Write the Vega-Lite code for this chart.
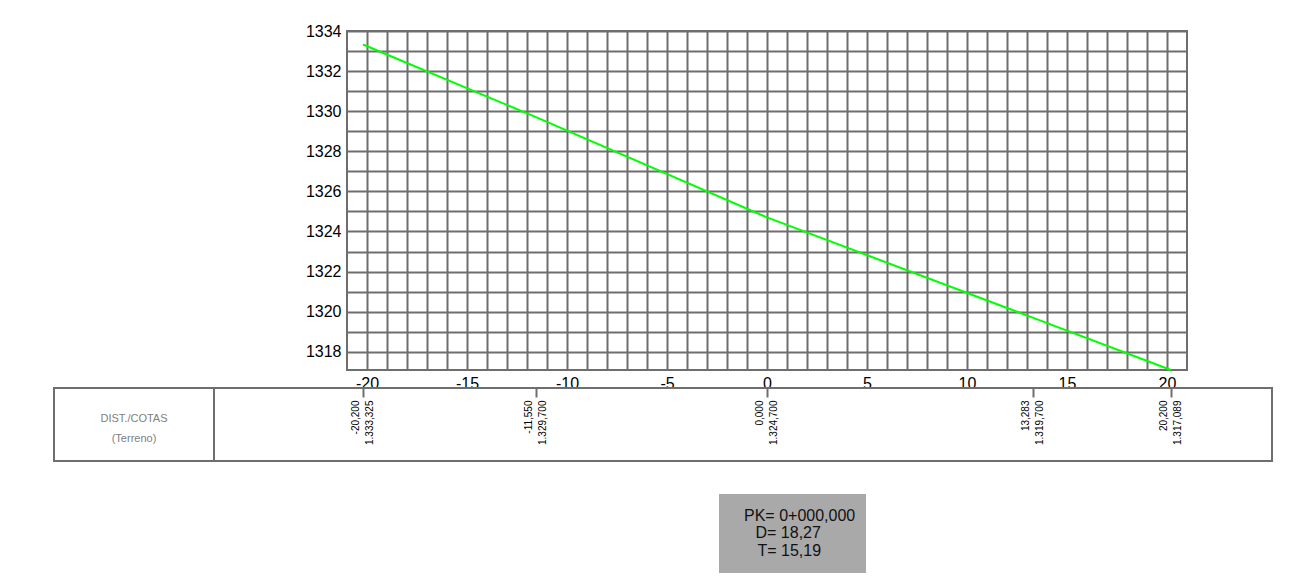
{
  "$schema": "https://vega.github.io/schema/vega-lite/v6.json",
  "padding": {"left": 53, "top": 22, "right": 5, "bottom": 5},
  "background": "white",
  "config": {
    "font": "Liberation Sans",
    "view": {"stroke": null},
    "locale": {"number": {"decimal": ",", "thousands": ".", "grouping": [3], "currency": ["", ""], "minus": "-"}}
  },
  "datasets": {
    "terrain": [
      {"dist": -20.2, "elev": 1333.325},
      {"dist": -11.55, "elev": 1329.7},
      {"dist": 0, "elev": 1324.7},
      {"dist": 13.283, "elev": 1319.7},
      {"dist": 20.2, "elev": 1317.089}
    ]
  },
  "bounds": "flush",
  "spacing": 18,
  "vconcat": [
    {
      "bounds": "flush",
      "spacing": 0,
      "hconcat": [
        {"width": 293, "height": 10, "data": {"values": []}, "mark": {"type": "point"}, "encoding": {}},
        {
          "width": 840,
          "height": 339,
          "view": {"stroke": "#6e6e6e", "strokeWidth": 2},
          "data": {"name": "terrain"},
          "mark": {"type": "line", "color": "#00ff00", "strokeWidth": 2},
          "encoding": {
            "x": {
              "field": "dist", "type": "quantitative",
              "scale": {"domain": [-21, 21], "nice": false, "zero": false},
              "axis": {
                "title": null,
                "values": [-20,-19,-18,-17,-16,-15,-14,-13,-12,-11,-10,-9,-8,-7,-6,-5,-4,-3,-2,-1,0,1,2,3,4,5,6,7,8,9,10,11,12,13,14,15,16,17,18,19,20],
                "format": "d",
                "labelExpr": "datum.value % 5 === 0 ? datum.label : ''",
                "grid": true, "gridColor": "#6e6e6e", "gridWidth": 2, "gridOpacity": 1,
                "ticks": false, "domain": false,
                "labelFontSize": 16, "labelColor": "#000000", "labelPadding": 5,
                "labelOverlap": false, "labelFlush": false
              }
            },
            "y": {
              "field": "elev", "type": "quantitative",
              "scale": {"domain": [1317.089, 1334], "nice": false, "zero": false},
              "axis": {
                "title": null,
                "values": [1318,1319,1320,1321,1322,1323,1324,1325,1326,1327,1328,1329,1330,1331,1332,1333,1334],
                "format": "d",
                "labelExpr": "datum.value % 2 === 0 ? datum.label : ''",
                "grid": true, "gridColor": "#6e6e6e", "gridWidth": 2, "gridOpacity": 1,
                "ticks": false, "domain": false,
                "labelFontSize": 16, "labelColor": "#000000", "labelPadding": 6,
                "labelOverlap": false, "labelFlush": false
              }
            }
          }
        }
      ]
    },
    {"width": 1, "height": 321, "data": {"values": []}, "mark": {"type": "point"}, "encoding": {}},
    {
      "bounds": "flush",
      "spacing": 0,
      "hconcat": [
        {
          "width": 160,
          "height": 73,
          "view": {"stroke": "#6e6e6e", "strokeWidth": 2},
          "data": {"values": [{"row": "header"}]},
          "mark": {"type": "text", "text": ["DIST./COTAS", "(Terreno)"], "fontSize": 11, "lineHeight": 20, "color": "#808080", "baseline": "middle", "dy": -5.5},
          "encoding": {}
        },
        {
          "width": 1058,
          "height": 73,
          "view": {"stroke": "#6e6e6e", "strokeWidth": 2},
          "data": {"name": "terrain"},
          "encoding": {
            "x": {
              "field": "dist", "type": "quantitative",
              "scale": {"domain": [-27.65, 25.25], "nice": false, "zero": false},
              "axis": {
                "orient": "top", "title": null,
                "values": [-20.2, -11.55, 0, 13.283, 20.2],
                "labels": false, "domain": false, "grid": false,
                "ticks": true, "tickSize": -9, "tickWidth": 2, "tickColor": "#6e6e6e"
              }
            }
          },
          "layer": [
            {
              "mark": {"type": "text", "angle": 270, "align": "right", "baseline": "middle", "fontSize": 10, "dx": 24, "dy": -7, "color": "#000000"},
              "encoding": {"text": {"field": "dist", "type": "quantitative", "format": ".3f"}}
            },
            {
              "mark": {"type": "text", "angle": 270, "align": "right", "baseline": "middle", "fontSize": 10, "dx": 24, "dy": 7, "color": "#000000"},
              "encoding": {"text": {"field": "elev", "type": "quantitative", "format": ",.3f"}}
            }
          ]
        }
      ]
    },
    {"width": 1, "height": 70, "data": {"values": []}, "mark": {"type": "point"}, "encoding": {}},
    {
      "bounds": "flush",
      "spacing": 0,
      "hconcat": [
        {"width": 665, "height": 10, "data": {"values": []}, "mark": {"type": "point"}, "encoding": {}},
        {
          "width": 147,
          "height": 79,
          "view": {"fill": "#a9a9a9", "stroke": null},
          "data": {"values": [{"pk": "PK= 0+000,000", "d": "D= 18,27", "t": "T= 15,19"}]},
          "layer": [
            {
              "mark": {"type": "text", "align": "left", "baseline": "middle", "dx": -48.5, "dy": -18, "fontSize": 16, "color": "#111111"},
              "encoding": {"text": {"field": "pk"}}
            },
            {
              "mark": {"type": "text", "align": "left", "baseline": "middle", "dx": -37, "dy": -1, "fontSize": 16, "color": "#111111"},
              "encoding": {"text": {"field": "d"}}
            },
            {
              "mark": {"type": "text", "align": "left", "baseline": "middle", "dx": -35, "dy": 17, "fontSize": 16, "color": "#111111"},
              "encoding": {"text": {"field": "t"}}
            }
          ]
        }
      ]
    }
  ]
}
